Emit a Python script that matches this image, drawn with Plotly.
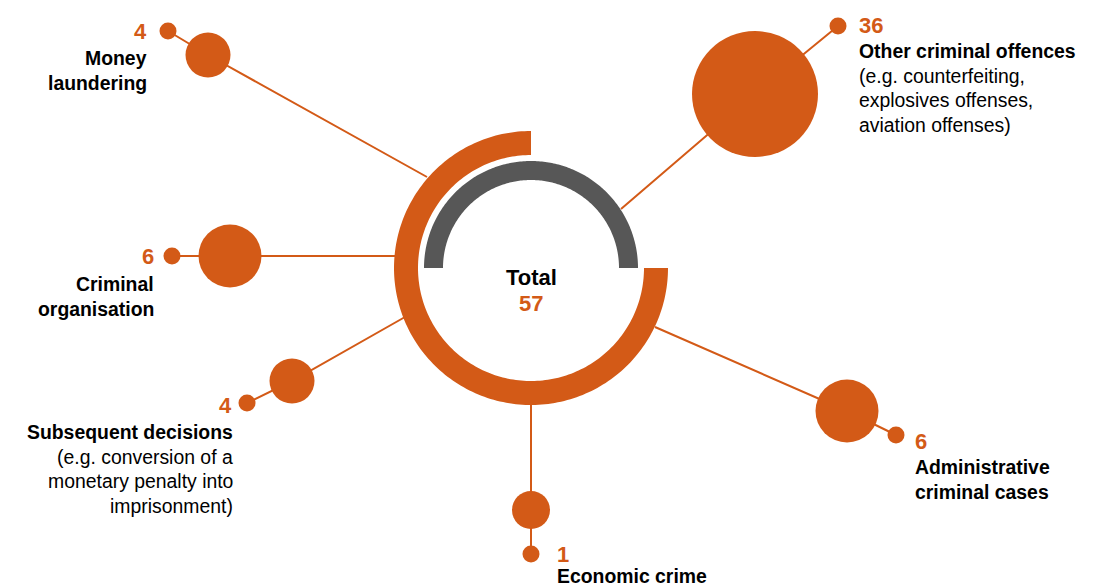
import numpy as np
import plotly.graph_objects as go

# ---- data ----
categories = ["Money laundering", "Criminal organisation", "Subsequent decisions",
              "Economic crime", "Administrative criminal cases", "Other criminal offences"]
values = [4, 6, 4, 1, 6, 36]
total = 57
title_lines = [["Money", "laundering"], ["Criminal", "organisation"], ["Subsequent decisions"],
               ["Economic crime"], ["Administrative", "criminal cases"], ["Other criminal offences"]]
note_lines = [[], [], ["(e.g. conversion of a", "monetary penalty into", "imprisonment)"],
              [], [], ["(e.g. counterfeiting,", "explosives offenses,", "aviation offenses)"]]

# ---- layout geometry (pixels) ----
W, H = 1096, 587
CX, CY = 531, 268
bubble_xy = [(208, 55), (230, 256), (292, 381), (531, 510), (847, 411), (755, 94)]
bubble_r = [22.5, 31.5, 22.5, 19, 31.5, 63]
dot_xy = [(168, 31), (172, 256), (247, 403), (531, 554), (896, 435), (838, 26)]
spoke_end = [(427, 177), (395, 256), (405, 317), (531, 405), (655, 327), (621, 209)]
value_pos = [(149, 31, "right"), (156, 256, "right"), (234, 405, "right"),
             (555, 554, "left"), (913, 441, "left"), (857, 25, "left")]
label_pos = [(149, 58, "right"), (156, 284, "right"), (235, 432, "right"),
             (555, 576, "left"), (913, 467, "left"), (857, 51, "left")]
LINE_STEP = 24.5

ORANGE = "#D35A17"
GRAY = "#575757"
FONT = "Liberation Sans, Arial, sans-serif"

fig = go.Figure()

# spokes
for (dx, dy), (bx, by), (ex, ey) in zip(dot_xy, bubble_xy, spoke_end):
    fig.add_trace(go.Scatter(x=[dx, bx, ex], y=[dy, by, ey], mode="lines",
                             line=dict(color=ORANGE, width=2), hoverinfo="skip",
                             showlegend=False))

# bubbles and dots
fig.add_trace(go.Scatter(x=[p[0] for p in bubble_xy], y=[p[1] for p in bubble_xy],
                         mode="markers", text=categories,
                         customdata=values,
                         hovertemplate="%{text}: %{customdata}<extra></extra>",
                         marker=dict(color=ORANGE, size=[2 * r for r in bubble_r],
                                     opacity=1, line=dict(width=0)), showlegend=False))
fig.add_trace(go.Scatter(x=[p[0] for p in dot_xy], y=[p[1] for p in dot_xy],
                         mode="markers", hoverinfo="skip",
                         marker=dict(color=ORANGE, size=17, opacity=1, line=dict(width=0)),
                         showlegend=False))


def arc_path(r_out, r_in, a0, a1, n=200):
    t = np.radians(np.linspace(a0, a1, n))
    xo = CX + r_out * np.cos(t)
    yo = CY - r_out * np.sin(t)
    xi = CX + r_in * np.cos(t[::-1])
    yi = CY - r_in * np.sin(t[::-1])
    pts = list(zip(np.concatenate([xo, xi]), np.concatenate([yo, yi])))
    return "M " + " L ".join(f"{x:.2f},{y:.2f}" for x, y in pts) + " Z"


shapes = [
    dict(type="path", path=arc_path(137, 113, 90, 360), fillcolor=ORANGE,
         line=dict(width=0), layer="above", xref="x", yref="y"),
    dict(type="path", path=arc_path(107, 88, 0, 180), fillcolor=GRAY,
         line=dict(width=0), layer="above", xref="x", yref="y"),
]

ann = []
# center text
ann.append(dict(x=CX, y=277, text="<b>Total</b>", showarrow=False,
                font=dict(family=FONT, size=22, color="black"), xanchor="center", yanchor="middle"))
ann.append(dict(x=CX, y=303, text=f"<b>{total}</b>", showarrow=False,
                font=dict(family=FONT, size=22, color=ORANGE), xanchor="center", yanchor="middle"))

for i in range(len(categories)):
    vx, vy, va = value_pos[i]
    ann.append(dict(x=vx, y=vy, text=f"<b>{values[i]}</b>", showarrow=False,
                    font=dict(family=FONT, size=22, color=ORANGE),
                    xanchor=va, yanchor="middle"))
    lx, ly, la = label_pos[i]
    lines = [f"<b>{t}</b>" for t in title_lines[i]] + list(note_lines[i])
    for k, t in enumerate(lines):
        ann.append(dict(x=lx, y=ly + k * LINE_STEP, text=t, showarrow=False,
                        font=dict(family=FONT, size=19.4, color="black"),
                        xanchor=la, yanchor="middle"))

fig.update_layout(
    width=W, height=H, margin=dict(l=0, r=0, t=0, b=0),
    paper_bgcolor="white", plot_bgcolor="white",
    xaxis=dict(range=[0, W], visible=False, fixedrange=True),
    yaxis=dict(range=[H, 0], visible=False, fixedrange=True),
    shapes=shapes, annotations=ann, showlegend=False,
)

fig.write_html("out.html", config={"displayModeBar": False},
               post_script="document.body.style.margin='0';document.body.style.overflow='hidden';")
